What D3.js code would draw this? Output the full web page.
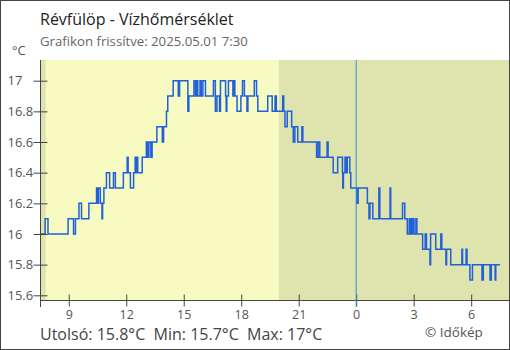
<!DOCTYPE html>
<html><head><meta charset="utf-8">
<script src="https://cdn.jsdelivr.net/npm/d3@7"></script>
<style>
html,body{margin:0;padding:0;background:#fff;}
text{font-family:"Open Sans",sans-serif;}
</style></head>
<body><svg id="c" width="510" height="350"></svg>
<script>
// ---- data ----
const titleText = "Révfülöp - Vízhőmérséklet";
const subtitleText = "Grafikon frissítve: 2025.05.01 7:30";
const unitText = "°C";
const footerStats = "Utolsó: 15.8°C  Min: 15.7°C  Max: 17°C";
const creditText = "© Időkép";
// start of window: 2025-04-30 07:30, minutes since then
const startTime = [2025, 3, 30, 7, 30];
const windowEndMinutes = 1470;
const dayStartMinutes = 18, dayEndMinutes = 748;
const midnightMinutes = 990;
const tMinutes = [0,16,25,88,105,111,122,130,153,177,180,183,189,194,196,200,208,218,230,236,
261,273,276,283,293,298,301,304,306,320,333,337,341,347,351,366,383,387,396,400,
417,433,437,463,466,482,487,490,494,501,505,510,518,543,549,554,562,565,581,583,
585,590,604,607,610,617,629,634,640,648,651,671,678,682,713,727,736,740,760,763,
767,774,788,793,798,807,820,823,866,871,876,899,902,918,932,947,948,950,955,958,
962,970,973,992,996,1025,1030,1033,1042,1061,1064,1096,1098,1135,1142,1150,1156,1159,1163,1165,
1168,1171,1177,1180,1198,1206,1210,1221,1223,1239,1255,1258,1271,1273,1286,1321,1323,1334,1337,1346,
1354,1384,1388,1409,1413,1425,1427,1440];
const temps = [16.0,16.1,16.0,16.1,16.0,16.1,16.2,16.1,16.2,16.3,16.2,16.3,16.2,16.1,16.2,16.3,16.4,16.3,16.4,16.3,
16.4,16.5,16.4,16.3,16.4,16.5,16.4,16.5,16.4,16.5,16.6,16.5,16.6,16.5,16.6,16.7,16.6,16.7,16.8,16.9,
17.0,16.9,17.0,16.8,16.9,17.0,16.9,17.0,16.9,17.0,16.9,17.0,16.9,17.0,16.8,16.9,16.8,17.0,16.9,16.8,
16.9,17.0,16.9,17.0,16.9,16.8,16.9,17.0,16.9,16.8,16.9,17.0,16.9,16.8,16.9,16.8,16.9,16.8,16.9,16.8,
16.7,16.8,16.7,16.6,16.7,16.6,16.7,16.6,16.5,16.6,16.5,16.6,16.5,16.4,16.5,16.4,16.3,16.4,16.5,16.4,
16.5,16.4,16.3,16.2,16.3,16.2,16.1,16.2,16.1,16.3,16.1,16.3,16.1,16.2,16.1,16.0,16.1,16.0,16.1,16.0,
16.1,16.0,16.1,16.0,15.9,16.0,15.9,15.8,16.0,15.9,16.0,15.9,15.8,15.9,15.8,15.9,15.8,15.9,15.8,15.7,
15.8,15.7,15.8,15.7,15.8,15.7,15.8,15.8];
const yTicks = [15.6,15.8,16,16.2,16.4,16.6,16.8,17];
const yTickLabels = ["15.6","15.8","16","16.2","16.4","16.6","16.8","17"];
const xTickLabels = ["9","12","15","18","21","0","3","6"];

// ---- layout ----
const W = 510, H = 350;
const L = 40, R = 509.5, T = 60, B = 300.5;
const svg = d3.select("#c");
const t0 = new Date(startTime[0], startTime[1], startTime[2], startTime[3], startTime[4]);
const toDate = m => new Date(t0.getTime() + m * 60000);

const x = d3.scaleTime().domain([t0, toDate(windowEndMinutes)]).range([L, R]);
const y = d3.scaleLinear().domain([15.6, 17]).range([295.3, 80.7]);

// backgrounds
svg.append("rect").attr("x", L).attr("y", T).attr("width", R - L).attr("height", B - T).attr("fill", "#dfe3ad");
svg.append("rect").attr("x", x(toDate(dayStartMinutes))).attr("y", T)
  .attr("width", x(toDate(dayEndMinutes)) - x(toDate(dayStartMinutes))).attr("height", B - T).attr("fill", "#f7fbc1");

// line
const data = tMinutes.map((m, i) => ({t: toDate(m), v: temps[i]}));
const line = d3.line().x(d => x(d.t)).y(d => y(d.v)).curve(d3.curveStepAfter);
svg.append("path").datum(data).attr("d", line).attr("fill", "none")
  .attr("stroke", "#2160d9").attr("stroke-width", 1.5);

// y axis
const gy = svg.append("g").attr("transform", `translate(${L + 0.5},0)`)
  .call(d3.axisLeft(y).tickValues(yTicks).tickFormat((d, i) => yTickLabels[i]).tickSize(7));
gy.select(".domain").remove();
gy.selectAll(".tick line").attr("x1", -7).attr("x2", 7).attr("stroke", "#444");
gy.selectAll(".tick text").attr("x", -33).attr("text-anchor", "start")
  .attr("fill", "#555").style("font-size", "13px").style("font-family", "'Open Sans',sans-serif");
svg.append("line").attr("x1", L + 0.5).attr("x2", L + 0.5).attr("y1", T).attr("y2", 307).attr("stroke", "#444");

// x axis
const xTickDates = xTickLabels.map(h => {
  const hh = +h; return hh >= 9 ? new Date(2025, 3, 30, hh) : new Date(2025, 4, 1, hh);
});
const gx = svg.append("g").attr("transform", `translate(0,${B})`)
  .call(d3.axisBottom(x).tickValues(xTickDates).tickFormat((d, i) => xTickLabels[i]).tickSize(6));
gx.select(".domain").remove();
gx.selectAll(".tick line").attr("y1", -6).attr("y2", 6).attr("stroke", "#444");
gx.selectAll(".tick text").attr("y", 10).attr("dy", "0.71em")
  .attr("fill", "#555").style("font-size", "12.5px").style("font-family", "'Open Sans',sans-serif");
svg.append("line").attr("x1", L).attr("x2", R).attr("y1", B).attr("y2", B).attr("stroke", "#444");

// midnight line
svg.append("line").attr("x1", x(toDate(midnightMinutes))).attr("x2", x(toDate(midnightMinutes)))
  .attr("y1", T).attr("y2", 307).attr("stroke", "#2196dc").attr("stroke-width", 1);

// texts
svg.append("text").attr("x", 40).attr("y", 25).attr("fill", "#222").style("font-size", "16px").text(titleText);
svg.append("text").attr("x", 40).attr("y", 46).attr("fill", "#666").style("font-size", "13.2px").text(subtitleText);
svg.append("text").attr("x", 12).attr("y", 55).attr("fill", "#555").style("font-size", "13px").text(unitText);
svg.append("text").attr("x", 40).attr("y", 340).attr("fill", "#444").style("font-size", "16px")
  .attr("xml:space", "preserve").style("white-space", "pre").text(footerStats);
svg.append("text").attr("x", 425).attr("y", 337).attr("fill", "#555").style("font-size", "13.5px").text(creditText);

// border
svg.append("rect").attr("x", 0.5).attr("y", 0.5).attr("width", W - 1).attr("height", H - 1)
  .attr("fill", "none").attr("stroke", "#444");
</script></body></html>
